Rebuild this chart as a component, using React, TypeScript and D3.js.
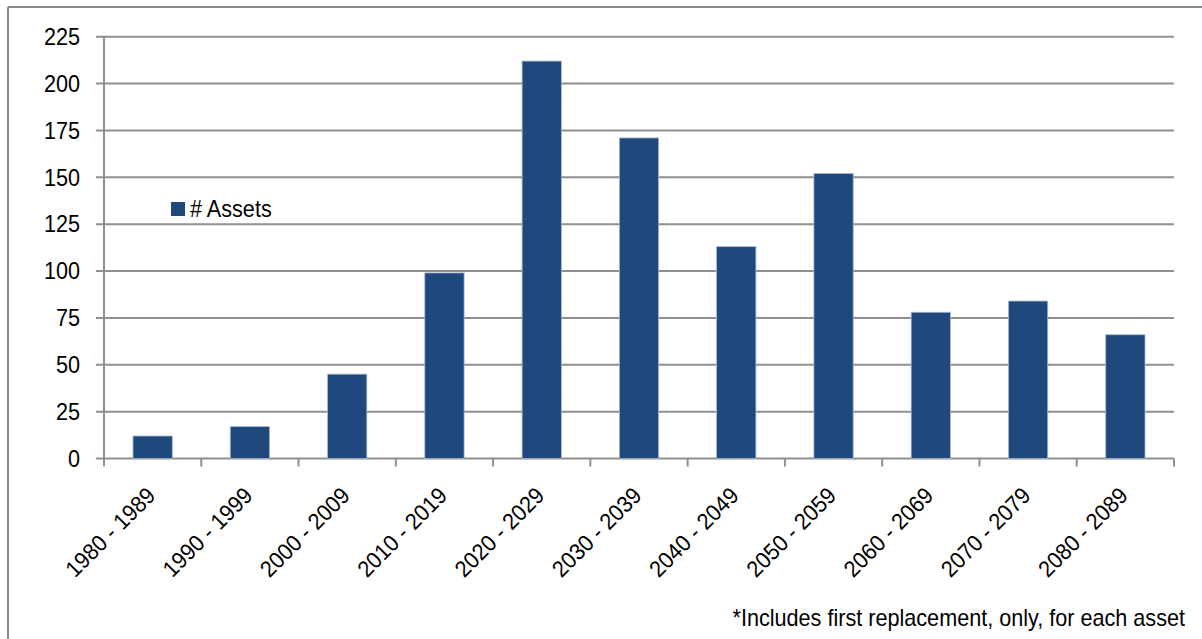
import React from "react";
import * as d3 from "d3";

const categories = [
  "1980 - 1989",
  "1990 - 1999",
  "2000 - 2009",
  "2010 - 2019",
  "2020 - 2029",
  "2030 - 2039",
  "2040 - 2049",
  "2050 - 2059",
  "2060 - 2069",
  "2070 - 2079",
  "2080 - 2089",
];
const assets = [12, 17, 45, 99, 212, 171, 113, 152, 78, 84, 66];
const yTicks = [0, 25, 50, 75, 100, 125, 150, 175, 200, 225];
const seriesName = "# Assets";
const footnote = "*Includes first replacement, only, for each asset";

const W = 1202;
const H = 639;
const FONT = "'Liberation Sans', Arial, sans-serif";
const GRID = "#8f8f8f";
const BAR = "#1F497D";
const FS = 23;
const SX = 0.94; // slightly condensed lettering

function Label(props: {
  x: number;
  y: number;
  anchor: "start" | "end";
  rotate?: number;
  dy?: string;
  children: React.ReactNode;
}) {
  const { x, y, anchor, rotate = 0, dy, children } = props;
  return (
    <text
      transform={`translate(${x},${y}) rotate(${rotate}) scale(${SX},1)`}
      textAnchor={anchor}
      dy={dy}
      fontSize={FS}
      fill="#000"
    >
      {children}
    </text>
  );
}

export default function App() {
  const x = d3
    .scaleBand<string>()
    .domain(categories)
    .range([104, 1174])
    .paddingInner(0.596)
    .paddingOuter(0.298);
  const y = d3.scaleLinear().domain([0, 225]).range([458.5, 36.7]);
  const step = x.step();
  const x0 = 104;
  const boundaries = d3.range(categories.length + 1).map((i) => x0 + i * step);

  return (
    <svg
      width={W}
      height={H}
      style={{ position: "absolute", left: 0, top: 0, background: "#fff" }}
      fontFamily={FONT}
    >
      <rect x={0} y={0} width={W} height={H} fill="#fff" />
      {/* outer frame */}
      <line x1={8} y1={7} x2={W} y2={7} stroke="#8a8a8a" strokeWidth={2} />
      <line x1={8} y1={7} x2={8} y2={H} stroke="#8a8a8a" strokeWidth={2} />

      {/* gridlines and y labels */}
      {yTicks.map((t) => (
        <g key={t}>
          <line x1={96} x2={1174} y1={y(t)} y2={y(t)} stroke={GRID} strokeWidth={2} />
          <Label x={80} y={y(t)} dy="0.36em" anchor="end">
            {t}
          </Label>
        </g>
      ))}

      {/* y axis line */}
      <line x1={104} x2={104} y1={y(225)} y2={y(0)} stroke={GRID} strokeWidth={2} />
      {/* x axis ticks */}
      {boundaries.map((bx, i) => (
        <line key={i} x1={bx} x2={bx} y1={y(0)} y2={y(0) + 8} stroke={GRID} strokeWidth={2} />
      ))}

      {/* bars */}
      {categories.map((c, i) => (
        <rect
          key={c}
          x={x(c)}
          y={y(assets[i])}
          width={x.bandwidth()}
          height={y(0) - y(assets[i])}
          fill={BAR}
          stroke="#a9b9cf"
          strokeWidth={0.8}
        />
      ))}

      {/* x labels */}
      {categories.map((c) => {
        const cx = (x(c) as number) + x.bandwidth() / 2;
        return (
          <Label key={c} x={cx + 4} y={497} rotate={-45} anchor="end">
            {c}
          </Label>
        );
      })}

      {/* legend */}
      <rect x={171} y={202} width={14} height={14} fill={BAR} />
      <Label x={190} y={216.5} anchor="start">
        {seriesName}
      </Label>

      {/* footnote */}
      <Label x={1185} y={626} anchor="end">
        {footnote}
      </Label>
    </svg>
  );
}
